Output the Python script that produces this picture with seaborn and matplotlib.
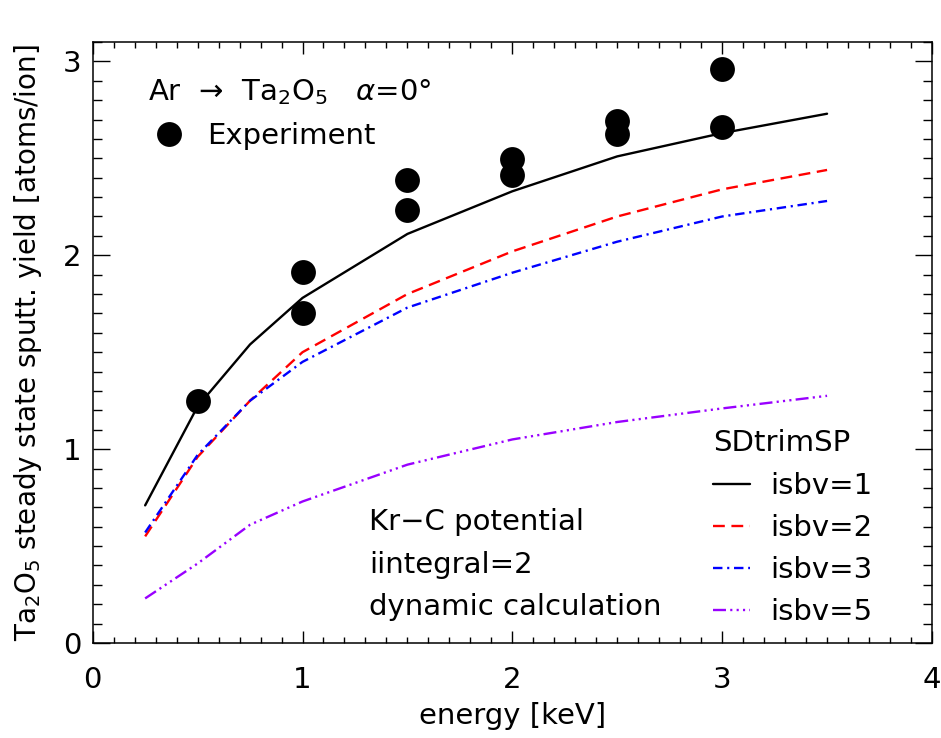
import matplotlib
matplotlib.use("Agg")
import matplotlib.pyplot as plt
import seaborn as sns
from matplotlib.lines import Line2D
from matplotlib.ticker import MultipleLocator

# Simulated steady-state sputter yields (SDtrimSP) for Ar on Ta2O5
energy = [0.25, 0.5, 0.75, 1.0, 1.5, 2.0, 2.5, 3.0, 3.5]
isbv1 = [0.71, 1.22, 1.54, 1.78, 2.11, 2.33, 2.51, 2.63, 2.73]
isbv2 = [0.55, 0.96, 1.25, 1.50, 1.80, 2.02, 2.20, 2.34, 2.44]
isbv3 = [0.57, 0.97, 1.25, 1.45, 1.73, 1.91, 2.07, 2.20, 2.28]
isbv5 = [0.23, 0.41, 0.61, 0.73, 0.92, 1.05, 1.14, 1.21, 1.275]

# Measured yields
exp_energy = [0.5, 1.0, 1.0, 1.5, 1.5, 2.0, 2.0, 2.5, 2.5, 3.0, 3.0]
exp_yield = [1.25, 1.915, 1.70, 2.39, 2.235, 2.495, 2.415, 2.695, 2.625, 2.96, 2.66]

series_labels = ["isbv=1", "isbv=2", "isbv=3", "isbv=5"]
series_colors = ["black", "#ff0000", "#0000ff", "#9900ff"]
series_styles = [
    "-",
    (0, (5.0, 2.8)),
    (0, (4.0, 2.0, 0.9, 2.0)),
    (0, (5.5, 1.8, 0.9, 1.8, 0.9, 1.8, 0.9, 1.8)),
]

sns.set_theme(style="ticks")
plt.rcParams["font.family"] = ["DejaVu Sans"]
plt.rcParams["mathtext.fontset"] = "dejavusans"
for key in ["text.color", "axes.labelcolor", "xtick.color", "ytick.color",
            "axes.edgecolor"]:
    plt.rcParams[key] = "black"
FS = 21

fig = plt.figure(figsize=(9.41, 7.38), dpi=100)
ax = fig.add_axes([0.0985, 0.1287, 0.8919, 0.8144])

LW = 1.7
for vals, lab, col, ls in zip([isbv1, isbv2, isbv3, isbv5], series_labels,
                              series_colors, series_styles):
    sns.lineplot(x=energy, y=vals, ax=ax, color=col, lw=LW, linestyle=ls,
                 label=lab, legend=False)

sns.scatterplot(x=exp_energy, y=exp_yield, ax=ax, color="black", s=320,
                marker="o", linewidth=0, legend=False, zorder=3)

ax.set_xlim(0, 4)
ax.set_ylim(0, 3.1)
ax.xaxis.set_major_locator(MultipleLocator(1))
ax.xaxis.set_minor_locator(MultipleLocator(0.1))
ax.yaxis.set_major_locator(MultipleLocator(1))
ax.yaxis.set_minor_locator(MultipleLocator(0.1))
ax.tick_params(axis="both", which="both", direction="in", top=True,
               right=True, colors="black", width=1.0, labelsize=FS)
ax.tick_params(axis="x", which="major", length=8.6, pad=16.5)
ax.tick_params(axis="x", which="minor", length=4.6)
ax.tick_params(axis="y", which="major", length=12.2, pad=8)
ax.tick_params(axis="y", which="minor", length=6.5)
for sp in ax.spines.values():
    sp.set_linewidth(1.1)
    sp.set_color("black")

ax.set_xlabel("energy [keV]", fontsize=FS)
ax.set_ylabel("Ta$_2$O$_5$ steady state sputt. yield [atoms/ion]",
              fontsize=20)
ax.xaxis.set_label_coords(0.5, -0.098)
ax.yaxis.set_label_coords(-0.0586, 0.5)

# Title line and experiment key
ax.text(0.0662, 0.9035, "Ar  \u2192  Ta$_2$O$_5$   $\\alpha$=0\u00b0",
        transform=ax.transAxes, fontsize=FS, va="baseline", ha="left")
exp_handle = Line2D([], [], marker="o", ls="none", color="black",
                    markersize=17.9, markeredgewidth=0)
leg_exp = ax.legend([exp_handle], ["Experiment"], loc="center left",
                    bbox_to_anchor=(0.070, 0.844), frameon=False, fontsize=FS,
                    borderpad=0, borderaxespad=0, handlelength=1.2,
                    handletextpad=0.71, labelcolor="black")
ax.add_artist(leg_exp)

# Simulation key
ax.text(0.739, 0.320, "SDtrimSP", transform=ax.transAxes, fontsize=FS,
        va="baseline", ha="left")
sim_handles = [Line2D([], [], color=c, lw=LW, linestyle=s)
               for c, s in zip(series_colors, series_styles)]
ax.legend(sim_handles, series_labels, loc="center left",
          bbox_to_anchor=(0.739, 0.1564), frameon=False, fontsize=FS,
          borderpad=0, borderaxespad=0, handlelength=1.27,
          handletextpad=0.69, labelspacing=0.48, labelcolor="black")

# Simulation settings
notes = ["Kr\u2212C potential", "iintegral=2", "dynamic calculation"]
for txt, yb in zip(notes, [0.188, 0.1165, 0.0466]):
    ax.text(0.3296, yb, txt, transform=ax.transAxes, fontsize=FS,
            va="baseline", ha="left")

fig.savefig("out.png", dpi=100)
